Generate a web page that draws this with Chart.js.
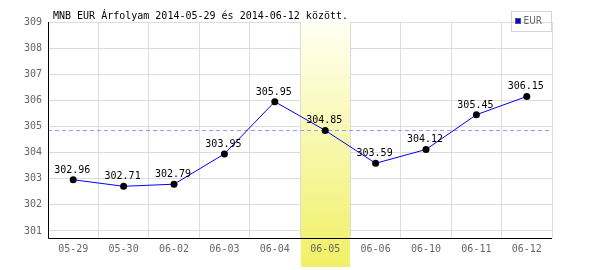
<!DOCTYPE html>
<html>
<head>
<meta charset="utf-8">
<script src="https://cdn.jsdelivr.net/npm/chart.js@4"></script>
<style>
  html, body { margin: 0; padding: 0; background: #fff; }
  #wrap { width: 600px; height: 270px; position: relative; }
</style>
</head>
<body>
<div id="wrap"><canvas id="rateChart"></canvas></div>
<script>
// MNB EUR rates, 2014-05-29 .. 2014-06-12
const labels = ['05-29', '05-30', '06-02', '06-03', '06-04', '06-05', '06-06', '06-10', '06-11', '06-12'];
const eurRates = [302.96, 302.71, 302.79, 303.95, 305.95, 304.85, 303.59, 304.12, 305.45, 306.15];
const yTicks = [301, 302, 303, 304, 305, 306, 307, 308, 309];
const highlightIndex = 5; // 06-05 column
const titleText = 'MNB EUR Árfolyam 2014-05-29 és 2014-06-12 között.';
const seriesName = 'EUR';

const MONO = '10px "DejaVu Sans Mono", monospace';

// yellow column behind the selected day
function columnGradient(ctx, top, bottom) {
    const g = ctx.createLinearGradient(0, top, 0, bottom);
    g.addColorStop(0, '#fffff2');
    g.addColorStop(1, '#f0f066');
    return g;
}

const overlayPlugin = {
    id: 'overlay',
    beforeDraw(chart) {
        const { ctx, chartArea, scales } = chart;
        const x = scales.x;
        const half = (x.getPixelForValue(1) - x.getPixelForValue(0)) / 2;
        const cx = x.getPixelForValue(highlightIndex);
        ctx.save();
        ctx.fillStyle = columnGradient(ctx, chartArea.top, 267);
        ctx.fillRect(Math.round(cx - half) + 1, chartArea.bottom, Math.round(half * 2) - 1, 267 - chartArea.bottom);
        ctx.restore();
    },
    beforeDatasetsDraw(chart) {
        const { ctx, chartArea, scales } = chart;
        const x = scales.x, y = scales.y;
        const half = (x.getPixelForValue(1) - x.getPixelForValue(0)) / 2;
        const cx = x.getPixelForValue(highlightIndex);
        ctx.save();
        ctx.fillStyle = columnGradient(ctx, chartArea.top, 267);
        ctx.fillRect(Math.round(cx - half) + 1, chartArea.top, Math.round(half * 2) - 1, chartArea.bottom - chartArea.top);

        // reference line at the selected day's rate
        const ry = Math.round(y.getPixelForValue(eurRates[highlightIndex])) + 0.5;
        ctx.strokeStyle = '#9999ff';
        ctx.lineWidth = 1;
        ctx.setLineDash([4, 3]);
        ctx.beginPath();
        ctx.moveTo(chartArea.left, ry);
        ctx.lineTo(chartArea.right, ry);
        ctx.stroke();
        ctx.setLineDash([]);

        // axes on top of the column
        ctx.strokeStyle = '#000';
        ctx.beginPath();
        ctx.moveTo(chartArea.left + 0.5, chartArea.top);
        ctx.lineTo(chartArea.left + 0.5, chartArea.bottom + 0.5);
        ctx.lineTo(chartArea.right, chartArea.bottom + 0.5);
        ctx.stroke();
        ctx.restore();
    },
    afterDatasetsDraw(chart) {
        const { ctx } = chart;
        const meta = chart.getDatasetMeta(0);
        ctx.save();
        ctx.font = MONO;
        ctx.fillStyle = '#000';
        ctx.textAlign = 'center';
        ctx.textBaseline = 'alphabetic';
        meta.data.forEach((pt, i) => {
            ctx.fillText(eurRates[i].toFixed(2), pt.x - 1, pt.y - 7);
        });
        ctx.restore();
    },
    afterDraw(chart) {
        const { ctx } = chart;
        ctx.save();
        ctx.font = MONO;
        ctx.fillStyle = '#000';
        ctx.textBaseline = 'alphabetic';
        ctx.fillText(titleText, 53, 19);

        // legend box
        ctx.strokeStyle = '#d4d4d4';
        ctx.lineWidth = 1;
        ctx.strokeRect(511.5, 11.5, 40, 20);
        ctx.fillStyle = '#0000ff';
        ctx.fillRect(515, 18, 6, 6);
        ctx.strokeStyle = '#555';
        ctx.strokeRect(515.5, 18.5, 5, 5);
        ctx.fillStyle = '#666';
        ctx.font = '10px "Liberation Sans Narrow", "DejaVu Sans Condensed", sans-serif';
        ctx.textBaseline = 'middle';
        ctx.fillText(seriesName, 523.5, 21.5);
        ctx.restore();
    }
};

new Chart(document.getElementById('rateChart'), {
    type: 'line',
    data: {
        labels: labels,
        datasets: [{
            label: seriesName,
            data: eurRates,
            borderColor: '#0000ff',
            borderWidth: 1,
            tension: 0,
            pointRadius: 3.5,
            pointBorderWidth: 0,
            pointBackgroundColor: '#000',
            pointBorderColor: '#000'
        }]
    },
    options: {
        responsive: true,
        maintainAspectRatio: false,
        animation: false,
        layout: { padding: { top: 22, right: 48, left: 0, bottom: 0 } },
        plugins: { legend: { display: false }, title: { display: false }, tooltip: { enabled: false } },
        scales: {
            x: {
                offset: true,
                grid: { offset: true, color: '#dcdcdc', drawTicks: false },
                border: { display: false },
                ticks: { color: '#666', font: { family: '"DejaVu Sans Mono", monospace', size: 10 }, padding: 5, maxRotation: 0, autoSkip: false },
                afterFit(s) { s.height = 32; }
            },
            y: {
                min: 300.73,
                max: 309,
                grid: { color: '#dcdcdc', drawTicks: false },
                border: { display: false },
                ticks: { color: '#666', font: { family: '"DejaVu Sans Mono", monospace', size: 10 }, padding: 6 },
                afterBuildTicks(s) { s.ticks = yTicks.map(v => ({ value: v })); },
                afterFit(s) { s.width = 48; }
            }
        }
    },
    plugins: [overlayPlugin]
});
</script>
</body>
</html>
